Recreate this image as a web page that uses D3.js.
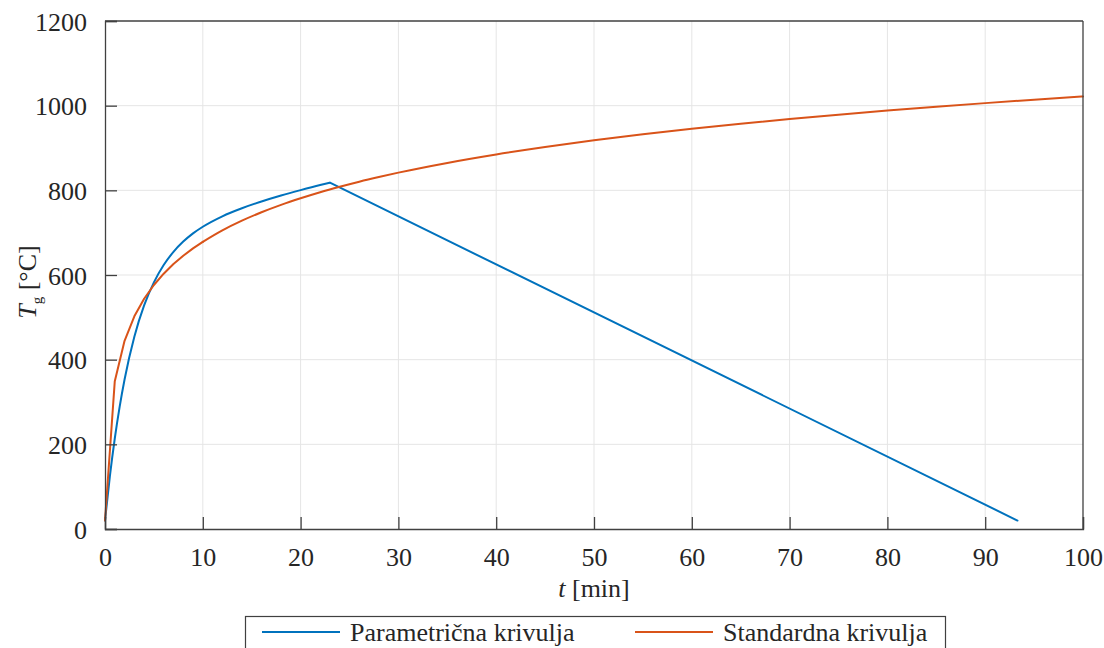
<!DOCTYPE html>
<html><head><meta charset="utf-8">
<script src="https://cdn.jsdelivr.net/npm/d3@7"></script>
<style>
body{margin:0;background:#fff;}
svg{display:block;}
text{font-family:"Liberation Serif","Times New Roman",serif;}
</style></head>
<body>
<svg id="chart" width="1104" height="648"></svg>
<script>
// Parametric fire curve: heating phase (time in min, temperature in °C)
const paramHeatTime = [0,0.5,1,1.5,2,3,4,5,6,7,8,9,10,12,14,16,18,20,22,23];
const paramHeatTemp = [20,124.9,213.8,289.2,353.3,454.3,528.1,582.6,623.5,654.7,678.9,698.3,714.0,738.7,757.7,773.6,787.7,800.5,812.5,818.0];
// Parametric fire curve: cooling phase
const paramCoolTime = [23,93.3];
const paramCoolTemp = [818.0,20];
// Standard fire curve
const stdTime = [0,1,2,3,4,5,6,7,8,9,10,12,14,16,18,20,22,24,26,28,30,35,40,45,50,55,60,65,70,75,80,85,90,95,100];
const stdTemp = [20,349.2,444.5,502.3,543.9,576.4,603.1,625.8,645.5,662.8,678.4,705.4,728.3,748.2,765.7,781.3,795.6,808.5,820.5,831.5,841.8,864.8,884.7,902.3,918.1,932.3,945.3,957.3,968.4,978.7,988.4,997.4,1006.0,1014.1,1021.7];
const xTicks = [0,10,20,30,40,50,60,70,80,90,100];
const yTicks = [0,200,400,600,800,1000,1200];
const seriesNames = ["Parametrična krivulja","Standardna krivulja"];
const seriesColors = ["#0072BD","#D95319"];

const FONT = "'Liberation Serif','Times New Roman',serif";
const svg = d3.select("#chart");
const L=105, R=1083, T=21, B=529;
const x = d3.scaleLinear().domain([0,100]).range([L,R]);
const y = d3.scaleLinear().domain([0,1200]).range([B,T]);
const axisColor="#404040";
const textColor="#262626";

// grid
const g = svg.append("g");
g.selectAll(".gx").data(xTicks.slice(1,-1)).enter().append("line")
  .attr("x1",d=>x(d)).attr("x2",d=>x(d)).attr("y1",T).attr("y2",B)
  .attr("stroke","#e5e5e5").attr("stroke-width",1);
g.selectAll(".gy").data(yTicks.slice(1,-1)).enter().append("line")
  .attr("y1",d=>y(d)).attr("y2",d=>y(d)).attr("x1",L).attr("x2",R)
  .attr("stroke","#e5e5e5").attr("stroke-width",1);

// lines
const lin = d3.line().x(d=>x(d[0])).y(d=>y(d[1]));
const smooth = d3.line().curve(d3.curveMonotoneX).x(d=>x(d[0])).y(d=>y(d[1]));
const heat = paramHeatTime.map((t,i)=>[t,paramHeatTemp[i]]);
const cool = paramCoolTime.map((t,i)=>[t,paramCoolTemp[i]]);
const std = stdTime.map((t,i)=>[t,stdTemp[i]]);
const stdEarly = std.filter(d=>d[0]<=10);
const stdLate = std.filter(d=>d[0]>=10);
function drawPath(data, gen, color){
  svg.append("path").datum(data).attr("d",gen).attr("fill","none")
    .attr("stroke",color).attr("stroke-width",2).attr("stroke-linejoin","round").attr("stroke-linecap","round");
}
drawPath(heat, smooth, seriesColors[0]);
drawPath(cool, lin, seriesColors[0]);
drawPath(stdEarly, lin, seriesColors[1]);
drawPath(stdLate, smooth, seriesColors[1]);

// axes
const xAxis = d3.axisBottom(x).tickValues(xTicks).tickSize(-12).tickPadding(19).tickFormat(d3.format("d"));
const yAxis = d3.axisLeft(y).tickValues(yTicks).tickSize(-12).tickPadding(18).tickFormat(d3.format("d"));
const gx = svg.append("g").attr("transform",`translate(0,${B})`).call(xAxis);
const gy = svg.append("g").attr("transform",`translate(${L},0)`).call(yAxis);
[gx,gy].forEach(a=>{
  a.attr("font-family",FONT).attr("font-size",26);
  a.select(".domain").attr("stroke",axisColor).attr("stroke-width",1.3);
  a.selectAll(".tick line").attr("stroke",axisColor).attr("stroke-width",1.3);
  a.selectAll(".tick text").attr("fill",textColor);
});
gx.selectAll(".tick text").attr("dy","0.71em");
gy.selectAll(".tick text").attr("dy","0.35em");
// box top/right
svg.append("line").attr("x1",L).attr("x2",R).attr("y1",T).attr("y2",T).attr("stroke",axisColor).attr("stroke-width",1.3);
svg.append("line").attr("x1",R).attr("x2",R).attr("y1",T).attr("y2",B).attr("stroke",axisColor).attr("stroke-width",1.3);

// axis labels
const xl = svg.append("text").attr("x",(L+R)/2).attr("y",597).attr("text-anchor","middle")
  .attr("fill",textColor).attr("font-family",FONT).attr("font-size",26);
xl.append("tspan").attr("font-style","italic").text("t");
xl.append("tspan").text(" [min]");

const yl = svg.append("text").attr("transform",`translate(36,282) rotate(-90)`).attr("text-anchor","middle")
  .attr("fill",textColor).attr("font-family",FONT).attr("font-size",26);
yl.append("tspan").attr("font-style","italic").text("T");
yl.append("tspan").attr("dy",6).attr("font-size",15).text("g");
yl.append("tspan").attr("dy",-6).text(" [°C]");

// legend
const lg = svg.append("g");
lg.append("rect").attr("x",245.5).attr("y",616.5).attr("width",700).attr("height",40)
  .attr("fill","#fff").attr("stroke",axisColor).attr("stroke-width",1.2);
const legX = [262,635];
seriesNames.forEach((n,i)=>{
  lg.append("line").attr("x1",legX[i]).attr("x2",legX[i]+78).attr("y1",632).attr("y2",632)
    .attr("stroke",seriesColors[i]).attr("stroke-width",2);
  lg.append("text").attr("x",legX[i]+88).attr("y",641).attr("fill",textColor)
    .attr("font-family",FONT).attr("font-size",26).text(n);
});
</script>
</body></html>
